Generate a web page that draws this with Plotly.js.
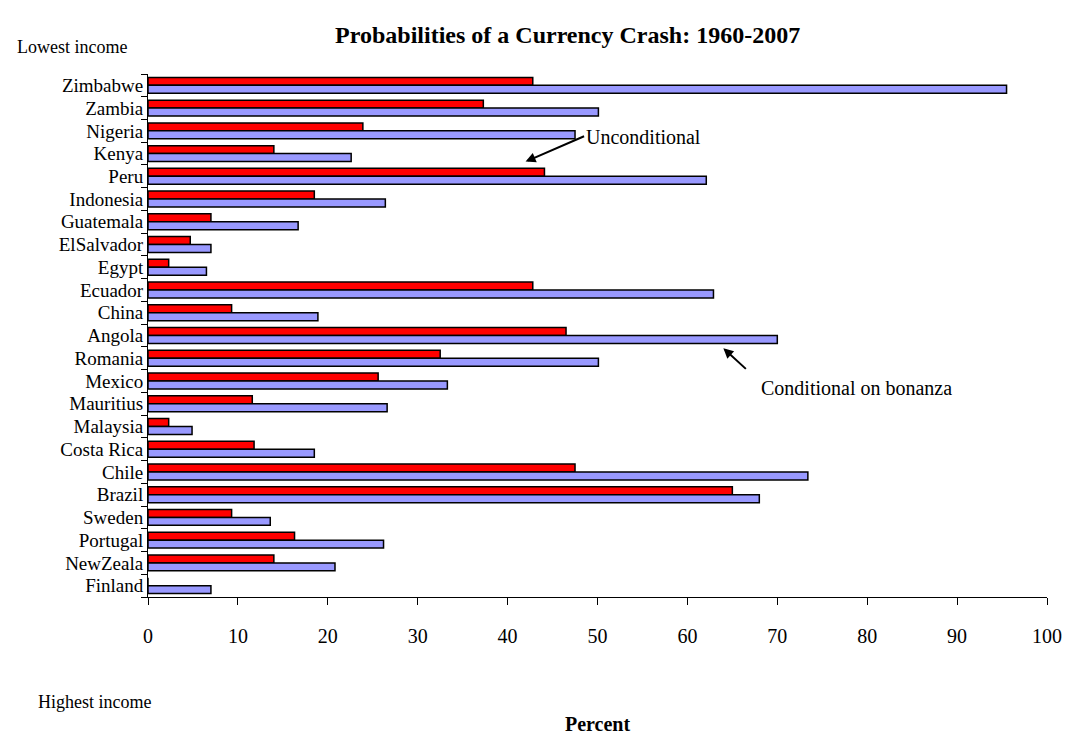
<!DOCTYPE html>
<html><head><meta charset="utf-8">
<script src="https://cdn.plot.ly/plotly-3.0.1.min.js"></script>
<style>body{margin:0;background:#fff}</style></head>
<body><div id="chart" style="width:1071px;height:740px"></div>
<script>
const countries = ["Zimbabwe","Zambia","Nigeria","Kenya","Peru","Indonesia","Guatemala","ElSalvador","Egypt","Ecuador","China","Angola","Romania","Mexico","Mauritius","Malaysia","Costa Rica","Chile","Brazil","Sweden","Portugal","NewZeala","Finland"];
const unconditional = [42.8,37.3,23.9,14.0,44.1,18.5,7.0,4.7,2.3,42.8,9.3,46.5,32.5,25.6,11.6,2.3,11.8,47.5,65.0,9.3,16.3,14.0,0];
const conditional = [95.5,50.1,47.5,22.6,62.1,26.4,16.7,7.0,6.5,62.9,18.9,70.0,50.1,33.3,26.6,4.9,18.5,73.4,68.0,13.6,26.2,20.8,7.0];
const xTicks = [0,10,20,30,40,50,60,70,80,90,100];
const F = "Liberation Serif, Times New Roman, serif";
const data = [
 {type:"bar",orientation:"h",y:countries,x:unconditional,name:"Unconditional",marker:{color:"#ff0000",line:{color:"#000",width:1.5}}},
 {type:"bar",orientation:"h",y:countries,x:conditional,name:"Conditional on bonanza",marker:{color:"#9999ff",line:{color:"#000",width:1.5}}}
];
const layout = {
 width:1071,height:740,margin:{l:148,r:24,t:74,b:143},
 paper_bgcolor:"#fff",plot_bgcolor:"#fff",showlegend:false,
 barmode:"group",bargap:0.3,bargroupgap:0,
 font:{family:F,size:20,color:"#000"},
 title:{text:"<b>Probabilities of a Currency Crash: 1960-2007</b>",font:{family:F,size:24},x:0.53,xanchor:"center",y:0.965},
 xaxis:{range:[0,100],tickvals:xTicks,showgrid:false,zeroline:false,showline:true,linecolor:"#000",linewidth:1,ticks:"outside",ticklen:7,tickcolor:"#000",tickfont:{size:20,family:F},ticklabelstandoff:14,
   title:{text:"<b>Percent</b>",font:{size:20,family:F},standoff:70}},
 yaxis:{autorange:"reversed",tickmode:"array",tickvals:countries,ticktext:countries,showgrid:false,showline:true,linecolor:"#000",linewidth:1,ticks:"outside",tickson:"boundaries",ticklen:6,tickcolor:"#000",tickfont:{size:19,family:F}},
 annotations:[
  {xref:"paper",yref:"paper",x:-0.148,y:1.075,xanchor:"left",text:"Lowest income",showarrow:false,font:{size:18,family:F}},
  {xref:"paper",yref:"paper",x:-0.125,y:-0.2,yanchor:"middle",xanchor:"left",text:"Highest income",showarrow:false,font:{size:18,family:F}},
  {xref:"x",yref:"y",x:42.0,y:"Kenya",ax:60,ay:-26,text:"",showarrow:true,arrowhead:2,arrowsize:1,arrowwidth:2,arrowcolor:"#000",yshift:-8},
  {xref:"paper",yref:"paper",x:0.485,y:0.905,xanchor:"left",text:"Unconditional",showarrow:false,font:{size:20,family:F}},
  {xref:"paper",yref:"paper",x:0.68,y:0.4,xanchor:"left",text:"Conditional on bonanza",showarrow:false,font:{size:20,family:F}},
  {xref:"x",yref:"y",x:64.0,y:"Romania",ax:24,ay:22,text:"",showarrow:true,arrowhead:2,arrowsize:1,arrowwidth:2,arrowcolor:"#000",yshift:10}
 ]
};
Plotly.newPlot("chart",data,layout,{displayModeBar:false});
</script></body></html>
